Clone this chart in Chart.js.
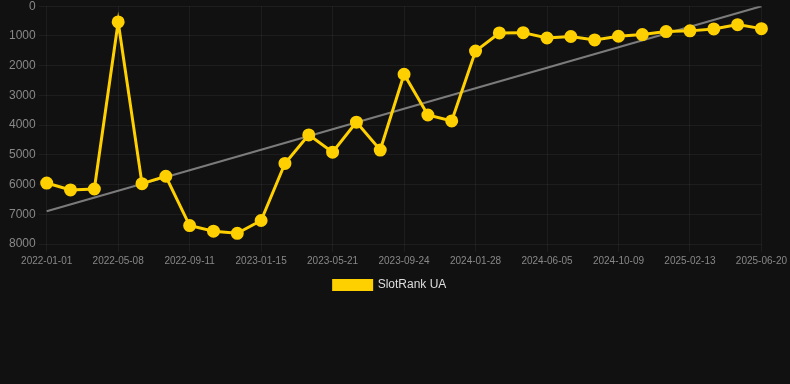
<!DOCTYPE html>
<html>
<head>
<meta charset="utf-8">
<script src="https://cdn.jsdelivr.net/npm/chart.js@4"></script>
<style>
  html, body { margin: 0; padding: 0; background: #111111; overflow: hidden; }
  #wrap { width: 790px; height: 305px; position: relative; top: -4px; }
</style>
</head>
<body>
<div id="wrap"><canvas id="rankChart"></canvas></div>
<script>
const dates = [
    '2022-01-01', '2022-02-12', '2022-03-26', '2022-05-08', '2022-06-19', '2022-07-31',
    '2022-09-11', '2022-10-23', '2022-12-04', '2023-01-15', '2023-02-26', '2023-04-09',
    '2023-05-21', '2023-07-02', '2023-08-13', '2023-09-24', '2023-11-05', '2023-12-17',
    '2024-01-28', '2024-03-10', '2024-04-23', '2024-06-05', '2024-07-17', '2024-08-28',
    '2024-10-09', '2024-11-20', '2025-01-01', '2025-02-13', '2025-03-28', '2025-05-09',
    '2025-06-20'
];

const rankValues = [
    5950, 6180, 6150, 530, 5970, 5720,
    7380, 7570, 7640, 7210, 5290, 4330,
    4910, 3900, 4840, 2290, 3660, 3860,
    1510, 900, 890, 1070, 1020, 1135,
    1010, 955, 855, 830, 765, 620,
    755
];

// trend line end points
const trendStart = 6900;
const trendEnd = 0;

const yTicks = [0, 1000, 2000, 3000, 4000, 5000, 6000, 7000, 8000];

const yellow = '#FFD000';
const gridColor = 'rgba(255,255,255,0.05)';
const font = 'Arial, "Liberation Sans", sans-serif';

const ctx = document.getElementById('rankChart').getContext('2d');
new Chart(ctx, {
    type: 'line',
    data: {
        labels: dates,
        datasets: [
            {
                label: 'SlotRank UA',
                data: rankValues,
                borderColor: yellow,
                backgroundColor: yellow,
                borderWidth: 3,
                pointRadius: 5,
                pointHoverRadius: 6,
                pointBackgroundColor: yellow,
                pointBorderColor: yellow,
                tension: 0
            },
            {
                label: 'trend',
                data: [
                    { x: dates[0], y: trendStart },
                    { x: dates[dates.length - 1], y: trendEnd }
                ],
                borderColor: 'rgba(150,150,150,0.8)',
                borderWidth: 2,
                pointRadius: 0,
                fill: false
            }
        ]
    },
    options: {
        responsive: true,
        maintainAspectRatio: false,
        animation: false,
        layout: { padding: { left: 6, right: 16, top: 0, bottom: 0 } },
        scales: {
            x: {
                grid: { color: gridColor, tickLength: 8 },
                border: { display: false },
                ticks: {
                    color: '#888888',
                    font: { family: font, size: 10 },
                    maxRotation: 0,
                    autoSkip: true,
                    maxTicksLimit: 11,
                    padding: 3
                }
            },
            y: {
                reverse: true,
                min: 0,
                max: 8000,
                afterBuildTicks: axis => { axis.ticks = yTicks.map(v => ({ value: v })); },
                grid: { color: gridColor, tickLength: 8 },
                border: { display: false },
                ticks: {
                    color: '#888888',
                    font: { family: font, size: 12 },
                    padding: 3,
                    callback: v => String(v)
                }
            }
        },
        plugins: {
            legend: {
                position: 'bottom',
                labels: {
                    color: '#dddddd',
                    font: { family: font, size: 12 },
                    boxWidth: 38,
                    boxHeight: 9,
                    padding: 9,
                    filter: item => item.text !== 'trend'
                }
            },
            tooltip: { enabled: false }
        }
    }
});
</script>
</body>
</html>
